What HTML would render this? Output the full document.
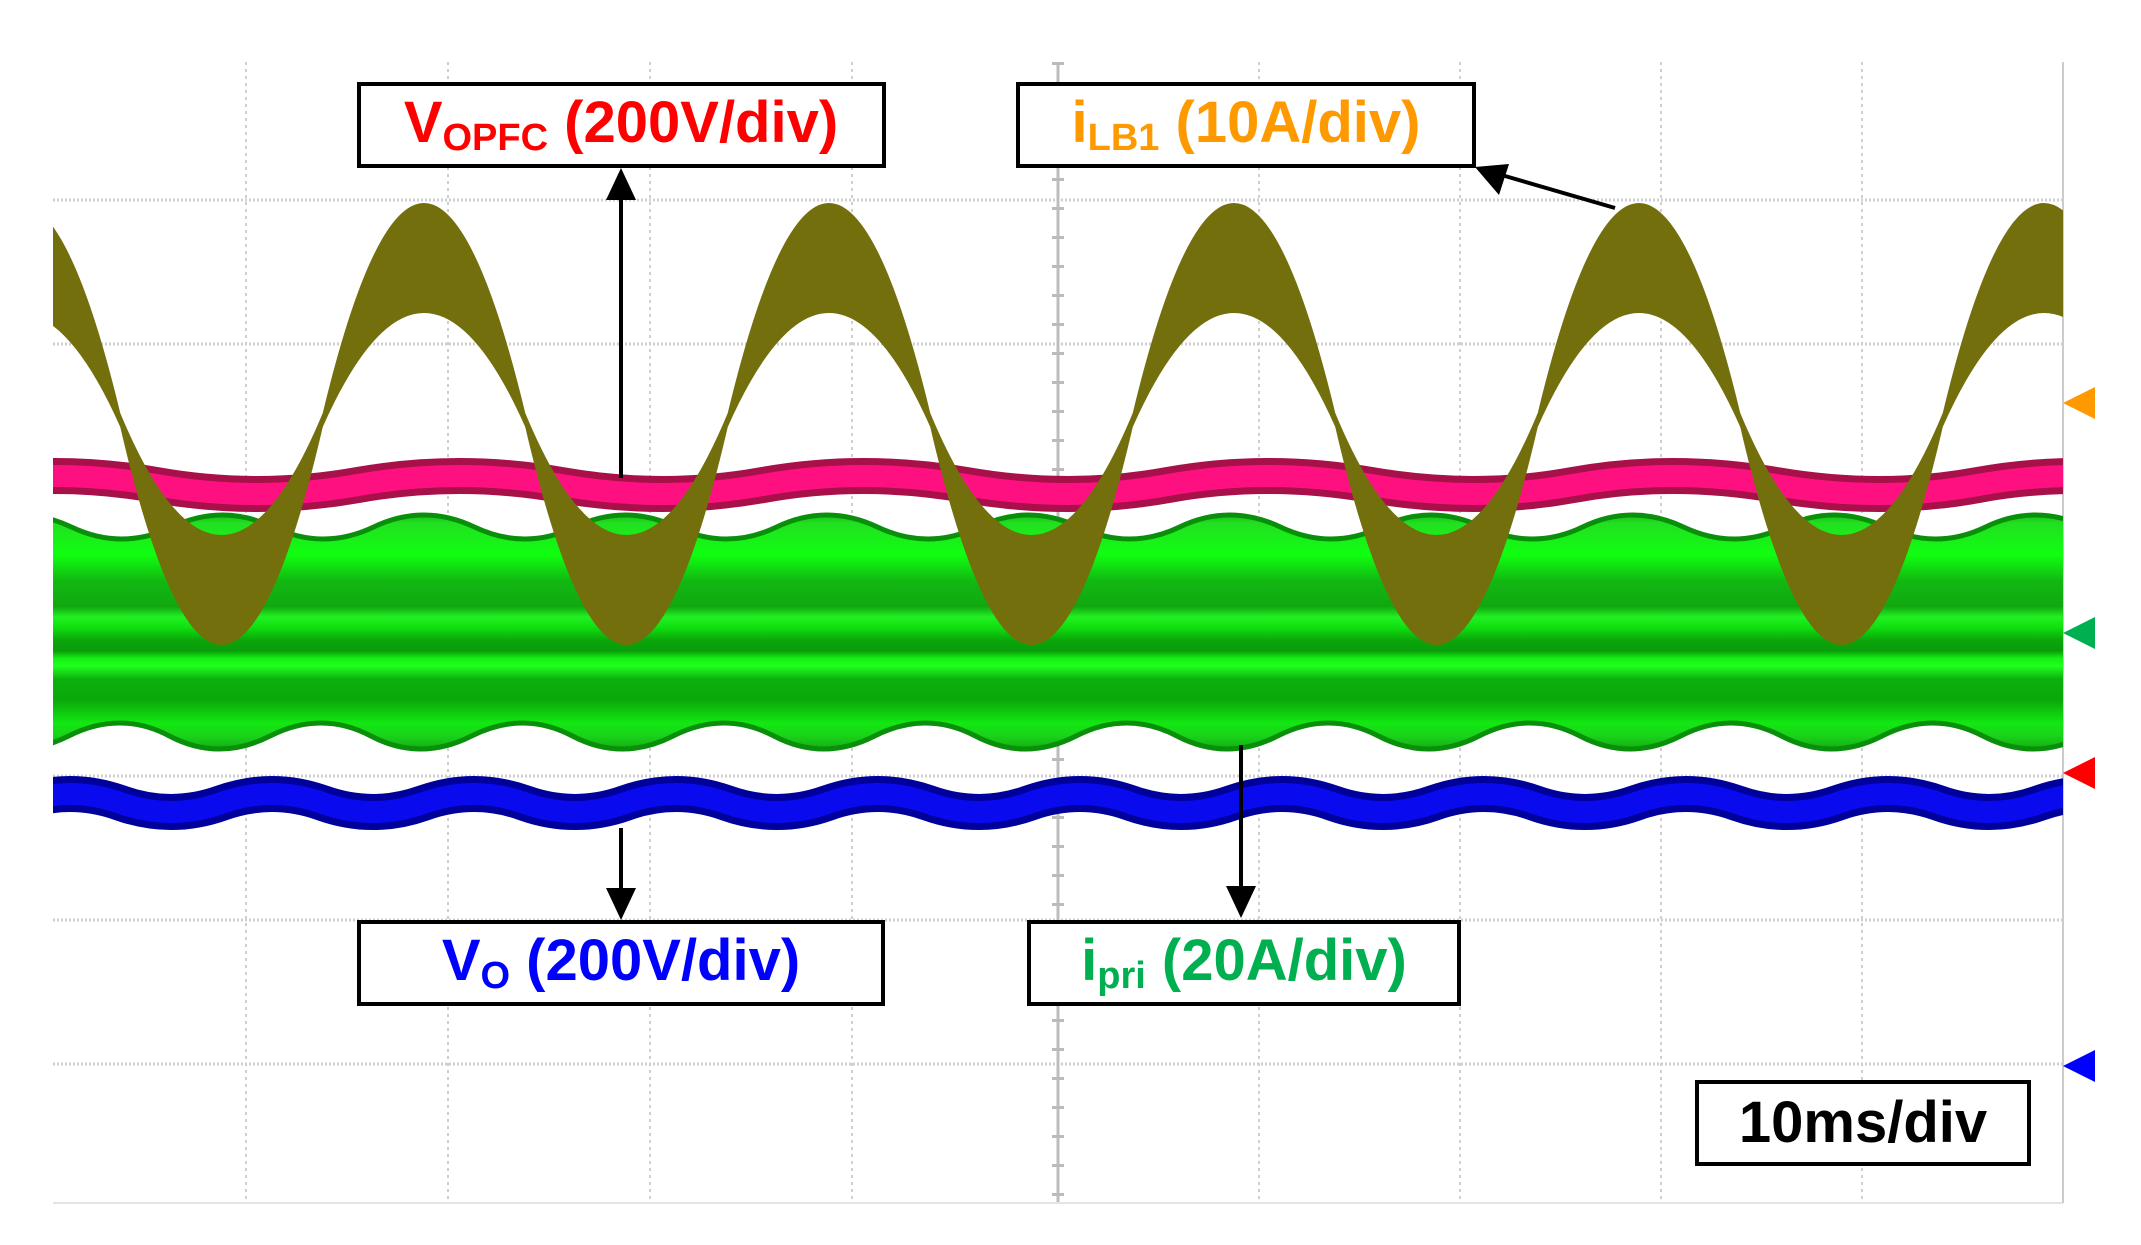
<!DOCTYPE html>
<html><head><meta charset="utf-8"><style>
html,body{margin:0;padding:0;background:#fff}
svg{display:block}
.t{font-family:"Liberation Sans Narrow","Liberation Sans",sans-serif;font-weight:bold}
</style></head><body>
<svg width="2141" height="1245" viewBox="0 0 2141 1245" xmlns="http://www.w3.org/2000/svg">
<defs>
<clipPath id="cp"><rect x="53" y="62" width="2010" height="1141"/></clipPath>
<linearGradient id="gg" x1="0" y1="503" x2="0" y2="762" gradientUnits="userSpaceOnUse">
<stop offset="0" stop-color="#0a9a0a"/>
<stop offset="0.08" stop-color="#22e022"/>
<stop offset="0.20" stop-color="#10ff10"/>
<stop offset="0.30" stop-color="#12b812"/>
<stop offset="0.40" stop-color="#10a810"/>
<stop offset="0.44" stop-color="#22f022"/>
<stop offset="0.48" stop-color="#10e010"/>
<stop offset="0.53" stop-color="#0aa60a"/>
<stop offset="0.57" stop-color="#0a9c0a"/>
<stop offset="0.60" stop-color="#14f014"/>
<stop offset="0.63" stop-color="#20ff20"/>
<stop offset="0.68" stop-color="#0cb00c"/>
<stop offset="0.76" stop-color="#0aa80a"/>
<stop offset="0.85" stop-color="#12e812"/>
<stop offset="0.90" stop-color="#1ad21a"/>
<stop offset="1" stop-color="#0a8a0a"/>
</linearGradient>
</defs>
<!-- grid -->
<g stroke="#cfcfcf" stroke-width="2" stroke-dasharray="3 4">
<line x1="246" y1="62" x2="246" y2="1203"/><line x1="448" y1="62" x2="448" y2="1203"/>
<line x1="650" y1="62" x2="650" y2="1203"/><line x1="852" y1="62" x2="852" y2="1203"/>
<line x1="1259" y1="62" x2="1259" y2="1203"/><line x1="1460" y1="62" x2="1460" y2="1203"/>
<line x1="1661" y1="62" x2="1661" y2="1203"/><line x1="1862" y1="62" x2="1862" y2="1203"/>
</g>
<g stroke="#cfcfcf" stroke-width="3" stroke-dasharray="2 2">
<line x1="53" y1="200" x2="2063" y2="200"/><line x1="53" y1="344" x2="2063" y2="344"/>
<line x1="53" y1="488" x2="2063" y2="488"/><line x1="53" y1="776" x2="2063" y2="776"/>
<line x1="53" y1="920" x2="2063" y2="920"/><line x1="53" y1="1064" x2="2063" y2="1064"/>
</g>
<line x1="1058" y1="62" x2="1058" y2="1203" stroke="#bdbdbd" stroke-width="3"/>
<line x1="1058" y1="62" x2="1058" y2="1203" stroke="#bbb" stroke-width="12" stroke-dasharray="3 26"/>
<line x1="53" y1="632" x2="2063" y2="632" stroke="#ccc" stroke-width="12" stroke-dasharray="2 38"/>
<line x1="53" y1="1203" x2="2063" y2="1203" stroke="#e4e4e4" stroke-width="2"/>
<line x1="2063" y1="62" x2="2063" y2="1203" stroke="#cccccc" stroke-width="2"/>

<g clip-path="url(#cp)">
<!-- green -->
<path fill="url(#gg)" stroke="#0a8f0a" stroke-width="5" d="M-29.4,527 Q21,503 71.4,527 T172.1,527 T272.9,527 T373.6,527 T474.4,527 T575.1,527 T675.9,527 T776.6,527 T877.4,527 T978.1,527 T1078.9,527 T1179.6,527 T1280.4,527 T1381.1,527 T1481.9,527 T1582.6,527 T1683.4,527 T1784.1,527 T1884.9,527 T1985.6,527 T2086.4,527 L2083.6,736 Q2033.1,762 1982.9,736 T1882.1,736 T1781.4,736 T1680.6,736 T1579.9,736 T1479.1,736 T1378.4,736 T1277.6,736 T1176.9,736 T1076.1,736 T975.4,736 T874.6,736 T773.9,736 T673.1,736 T572.4,736 T471.6,736 T370.9,736 T270.1,736 T169.4,736 T68.6,736 T-32.1,736 Z"/>
<!-- blue -->
<path id="bl" fill="none" stroke="#00009a" stroke-width="36" d="M19.5,803 Q70,785 120.5,803 T221.5,803 T322.5,803 T423.5,803 T524.5,803 T625.5,803 T726.5,803 T827.5,803 T928.5,803 T1029.5,803 T1130.5,803 T1231.5,803 T1332.5,803 T1433.5,803 T1534.5,803 T1635.5,803 T1736.5,803 T1837.5,803 T1938.5,803 T2039.5,803 T2140.5,803"/>
<path fill="none" stroke="#0a0aee" stroke-width="22" d="M19.5,803 Q70,785 120.5,803 T221.5,803 T322.5,803 T423.5,803 T524.5,803 T625.5,803 T726.5,803 T827.5,803 T928.5,803 T1029.5,803 T1130.5,803 T1231.5,803 T1332.5,803 T1433.5,803 T1534.5,803 T1635.5,803 T1736.5,803 T1837.5,803 T1938.5,803 T2039.5,803 T2140.5,803"/>
<!-- pink -->
<path fill="none" stroke="#a8104a" stroke-width="36" d="M-46,485 Q55,467 156,485 T358,485 T561,485 T763,485 T966,485 T1168,485 T1371,485 T1573,485 T1776,485 T1978,485 T2181,485"/>
<path fill="none" stroke="#ff1080" stroke-width="22" d="M-46,485 Q55,467 156,485 T358,485 T561,485 T763,485 T966,485 T1168,485 T1371,485 T1573,485 T1776,485 T1978,485 T2181,485"/>
<!-- olive -->
<path fill="#736f0c" d="M-82.25,413 Q19,-7 120.25,413 Q221.5,657 322.75,413 Q424,-7 525.25,413 Q626.5,657 727.75,413 Q829,-7 930.25,413 Q1031.5,657 1132.75,413 Q1234,-7 1335.25,413 Q1436.5,657 1537.75,413 Q1639,-7 1740.25,413 Q1841.5,657 1942.75,413 Q2044,-7 2145.25,413 L2145.25,427 Q2044,199 1942.75,427 Q1841.5,863 1740.25,427 Q1639,199 1537.75,427 Q1436.5,863 1335.25,427 Q1234,199 1132.75,427 Q1031.5,863 930.25,427 Q829,199 727.75,427 Q626.5,863 525.25,427 Q424,199 322.75,427 Q221.5,863 120.25,427 Q19,199 -82.25,427 Z"/>
</g>

<!-- arrows -->
<g stroke="#000" stroke-width="4" fill="none">
<line x1="621" y1="478" x2="621" y2="200"/>
<line x1="621" y1="828" x2="621" y2="890"/>
<line x1="1241" y1="745" x2="1241" y2="886"/>
<line x1="1615" y1="208" x2="1505" y2="176"/>
</g>
<g fill="#000">
<polygon points="621,168 606,200 636,200"/>
<polygon points="621,920 606,888 636,888"/>
<polygon points="1241,918 1226,886 1256,886"/>
<polygon points="1475,167 1509,164 1499,195"/>
</g>
<!-- boxes -->
<g fill="#fff" stroke="#000" stroke-width="4">
<rect x="359" y="84" width="525" height="82"/>
<rect x="1018" y="84" width="456" height="82"/>
<rect x="359" y="922" width="524" height="82"/>
<rect x="1029" y="922" width="430" height="82"/>
<rect x="1697" y="1082" width="332" height="82"/>
</g>
<text class="t" x="621" y="142" font-size="58" fill="#ff0000" text-anchor="middle">V<tspan font-size="38" dy="8">OPFC</tspan><tspan dy="-8"> (200V/div)</tspan></text>
<text class="t" x="1246" y="142" font-size="58" fill="#ff9900" text-anchor="middle">i<tspan font-size="38" dy="8">LB1</tspan><tspan dy="-8"> (10A/div)</tspan></text>
<text class="t" x="621" y="980" font-size="58" fill="#0000ff" text-anchor="middle">V<tspan font-size="38" dy="8">O</tspan><tspan dy="-8"> (200V/div)</tspan></text>
<text class="t" x="1244" y="980" font-size="58" fill="#00b050" text-anchor="middle">i<tspan font-size="38" dy="8">pri</tspan><tspan dy="-8"> (20A/div)</tspan></text>
<text class="t" x="1863" y="1142" font-size="58" fill="#000" text-anchor="middle">10ms/div</text>
<!-- channel markers -->
<polygon points="2063,403 2095,387 2095,419" fill="#ff9900"/>
<polygon points="2063,633 2095,617 2095,649" fill="#00b050"/>
<polygon points="2063,773 2095,757 2095,789" fill="#ff0000"/>
<polygon points="2063,1066 2095,1050 2095,1082" fill="#0000ff"/>
</svg>
</body></html>
